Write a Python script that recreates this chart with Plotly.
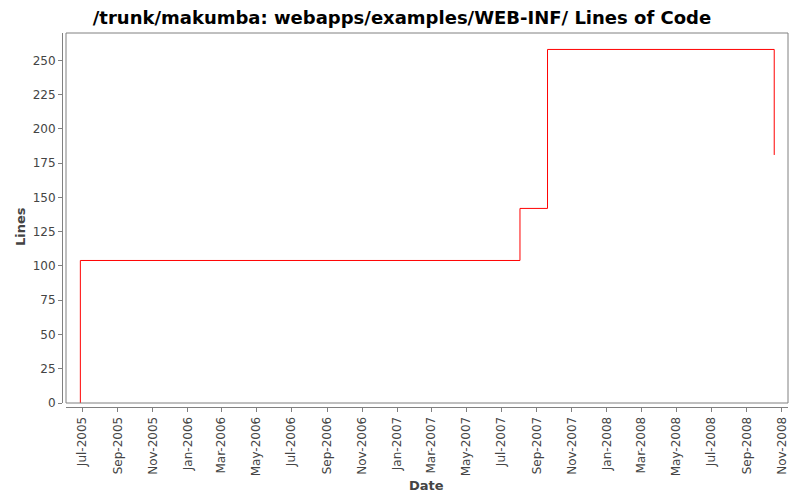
import plotly.graph_objects as go

# lines of code over time (step chart)
dates = ["2005-06-28", "2005-06-28", "2007-08-03", "2007-09-20", "2008-10-19"]
lines = [0, 104, 142, 258, 181]

y_ticks = [0, 25, 50, 75, 100, 125, 150, 175, 200, 225, 250]
title = "/trunk/makumba: webapps/examples/WEB-INF/ Lines of Code"

# the page body has an 8px margin, so the figure is a bit smaller
# and all window positions below are shifted by that amount
OFF = 8
W, H = 800 - OFF, 500 - OFF
ml, mr, mt, mb = 62 - OFF, 12, 33 - OFF, 93
pw = W - ml - mr
ph = H - mt - mb
gap = 4  # axis offset in px, like the original renderer
dx = gap / pw
dy = gap / ph


def px_x(x):
    return (x - OFF - ml) / pw


def px_y(y):
    return 1 - (y - OFF - mt) / ph


axis_grey = "#808080"
label_col = "#444444"

fig = go.Figure()
fig.add_trace(go.Scatter(
    x=dates, y=lines,
    mode="lines",
    line=dict(color="#ff0000", width=1, shape="hv"),
    showlegend=False,
))

fig.update_layout(
    width=W, height=H,
    margin=dict(l=ml, r=mr, t=mt, b=mb, autoexpand=False),
    paper_bgcolor="white",
    plot_bgcolor="white",
    font=dict(family="DejaVu Sans", size=12, color=label_col),
    title=dict(
        text="<b>" + title + "</b>",
        font=dict(family="DejaVu Sans", size=18, color="black"),
        x=(402 - OFF) / W, xref="container", xanchor="center",
        y=1 - (18 - OFF) / H, yref="container", yanchor="middle",
        automargin=False,
    ),
    xaxis=dict(
        domain=[dx, 1],
        anchor="free", position=0,
        automargin=False,
        type="date",
        range=["2005-06-03", "2008-11-12"],
        tick0="2005-07-01", dtick="M2",
        tickformat="%b-%Y",
        tickangle=-90,
        ticks="outside", ticklen=4, tickcolor=axis_grey,
        showline=True, linecolor=axis_grey, linewidth=1,
        showgrid=False, zeroline=False,
        tickfont=dict(size=12, color=label_col),
    ),
    yaxis=dict(
        domain=[dy, 1],
        anchor="free", position=0,
        automargin=False,
        range=[0, 270],
        tickvals=y_ticks,
        ticks="outside", ticklen=4, tickcolor=axis_grey,
        showline=True, linecolor=axis_grey, linewidth=1,
        showgrid=False, zeroline=False,
        tickfont=dict(size=12, color=label_col),
    ),
)

# frame around the data area
fig.add_shape(type="rect", xref="paper", yref="paper",
              x0=dx, x1=1, y0=dy, y1=1,
              line=dict(color=axis_grey, width=1), layer="above")

# axis titles
fig.add_annotation(text="<b>Date</b>", xref="paper", yref="paper",
                   x=dx + (1 - dx) / 2, y=px_y(485),
                   xanchor="center", yanchor="middle", showarrow=False,
                   font=dict(family="DejaVu Sans", size=13, color=label_col))
fig.add_annotation(text="<b>Lines</b>", xref="paper", yref="paper",
                   x=px_x(20), y=px_y(227),
                   xanchor="center", yanchor="middle", showarrow=False,
                   textangle=-90,
                   font=dict(family="DejaVu Sans", size=13, color=label_col))

fig.write_html("out.html")
